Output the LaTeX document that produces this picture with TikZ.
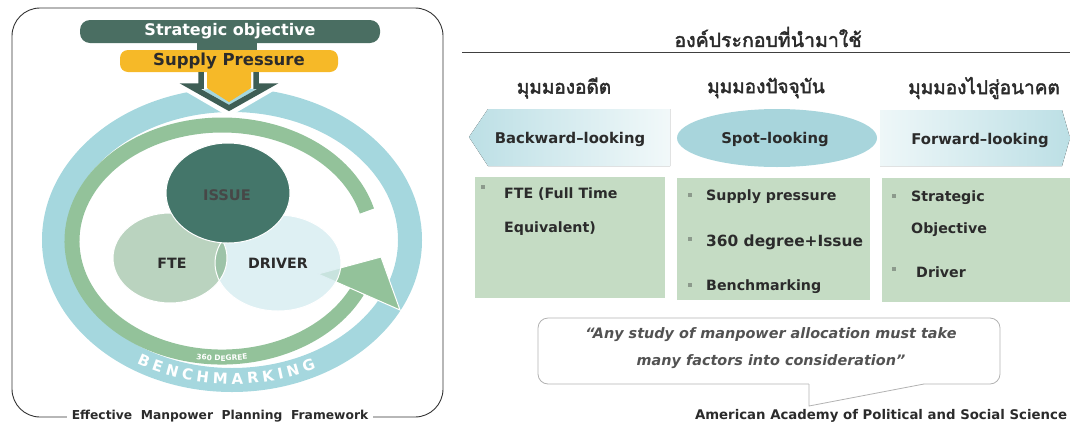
\documentclass[tikz,border=0pt]{standalone}
\usepackage{fontspec}
\setmainfont{DejaVu Sans}
\newfontfamily\thaifont[Script=Thai, FakeBold=2.2]{Loma}
\usetikzlibrary{decorations.text,shapes.geometric}
\newcommand\fsz[1]{\fontsize{#1}{#1}\selectfont}
\definecolor{darkbar}{HTML}{4A6E62}
\definecolor{supply}{HTML}{F6B928}
\definecolor{arrowdark}{HTML}{3E5E55}
\definecolor{bluering}{HTML}{A5D7DE}
\definecolor{greenring}{HTML}{93C29A}
\definecolor{issuec}{HTML}{44766A}
\definecolor{ftec}{HTML}{BAD3BF}
\definecolor{driverc}{HTML}{D6ECF0}
\definecolor{overlapc}{HTML}{9DC3A8}
\definecolor{boxgreen}{HTML}{C5DCC4}
\definecolor{bluedeep}{HTML}{BCDFE5}
\definecolor{spotblue}{HTML}{A8D5DC}
\definecolor{bulletgray}{HTML}{8C9A8C}
\definecolor{textdark}{HTML}{2B2B2B}
\begin{document}
\begin{tikzpicture}[x=1pt,y=-1pt,
  lbl/.style={font=\bfseries\fsz{14.8}, text=textdark, inner sep=0},
  item/.style={anchor=west, font=\bfseries\fsz{14.2}, text=textdark, inner sep=0},
  bul/.style={fill=bulletgray, minimum size=4.5pt, inner sep=0},
  panel/.style={fill=boxgreen, anchor=north west, inner sep=0},
  thaihead/.style={font=\thaifont\fsz{19}, text=textdark},
  circlbl/.style={font=\bfseries\fsz{14.2}, text=textdark},
]
\useasboundingbox (0,0) rectangle (1070,426);

% ---------- left panel ----------
\draw[line width=0.9pt, draw=black!80, rounded corners=28pt] (12,8) rectangle (443,417);
\node[fill=white, inner xsep=5pt, inner ysep=2pt, font=\bfseries\fsz{12.3}, text=textdark] (cap) at (220,416) {Effective\ \ Manpower\ \ Planning\ \ Framework};

% benchmarking ring
\draw[bluering, line width=24pt] (232,240) ellipse[x radius=178, y radius=140];
\path[decorate, decoration={text along path, text align={fit to path},
  text={|\bfseries\fsz{15}\color{white}|BENCHMARKING}}]
  (232+185*cos 121, 240+144*sin 121) arc[start angle=121, end angle=63, x radius=185, y radius=144];

% 360 degree ring
\draw[greenring, line width=15pt] (366.9,211) arc[start angle=-15, end angle=-334.5, x radius=150, y radius=116];
\path[decorate, decoration={text along path, text align=center,
  text={|\bfseries\fsz{7.5}\color{white}|360 DEGREE}}]
  (222+152*cos 112, 241+120*sin 112) arc[start angle=112, end angle=68, x radius=152, y radius=120];
\fill[greenring, draw=white, line width=1pt] (318,274) -- (381,257) -- (400,310) -- cycle;

% top bars and arrow
\fill[darkbar] (197,38) rectangle (257,52);
\node[fill=darkbar, rounded corners=10pt, minimum width=300pt, minimum height=23pt, inner sep=0,
  text=white, font=\bfseries\fsz{16}] (so) at (230,31.5) {Strategic objective};
\node[fill=supply, rounded corners=8pt, minimum width=218pt, minimum height=22pt, inner sep=0,
  text=textdark, font=\bfseries\fsz{16.5}] (sp) at (229,61) {Supply Pressure};
\fill[supply] (207,72) -- (251,72) -- (251,88) -- (229,102) -- (207,88) -- cycle;
\draw[white, line width=10pt, line join=miter] (186,86) -- (229,111) -- (272,86);
\draw[arrowdark, line width=5.5pt, line join=miter] (201,72) -- (201,86) -- (190,86) -- (229,108) -- (268,86) -- (256,86) -- (256,72);

% circles
\node[ellipse, fill=ftec, minimum width=114pt, minimum height=90pt, inner sep=0] (fte) at (170,258) {};
\node[ellipse, fill=driverc, fill opacity=0.8, minimum width=126pt, minimum height=96pt, inner sep=0] (drv) at (278,263) {};
\begin{scope}
  \clip (170,258) ellipse[x radius=57, y radius=45];
  \fill[overlapc] (278,263) ellipse[x radius=63, y radius=48];
\end{scope}
\draw[white, line width=1pt] (170,258) ellipse[x radius=57, y radius=45];
\draw[white, line width=1pt] (278,263) ellipse[x radius=63, y radius=48];
\node[ellipse, fill=issuec, draw=white, line width=1pt, minimum width=124pt, minimum height=100pt, inner sep=0] (issue) at (228,193) {};
\node[circlbl, text=black!72, font=\bfseries\fsz{14.6}] (issuet) at (227,195) {ISSUE};
\node[circlbl] (ftet) at (172,263) {FTE};
\node[circlbl] (drvt) at (278,263) {DRIVER};

% ---------- right panel ----------
\node[font=\thaifont\fsz{19.5}, text=textdark] (title) at (768,37) {องค์ประกอบที่นำมาใช้};
\coordinate (rl) at (462,52);
\coordinate (rr) at (1070,52);
\draw[line width=0.8pt, black!75] (rl) -- (rr);

\node[thaihead] (h1) at (564,88) {มุมมองอดีต};
\node[thaihead] (h2) at (766,88) {มุมมองปัจจุบัน};
\node[thaihead] (h3) at (984,88) {มุมมองไปสู่อนาคต};

\fill[left color=bluedeep, right color=white!80!bluedeep] (469,137) -- (488,109) -- (670,109) -- (670,166) -- (488,166) -- cycle;
\node[ellipse, fill=spotblue, minimum width=200pt, minimum height=58pt, inner sep=0] (spot) at (777,138) {};
\fill[left color=white!75!bluedeep, right color=bluedeep] (880,110) -- (1062,110) -- (1070,138) -- (1062,166) -- (880,166) -- cycle;
\node[lbl] (bw) at (570,139) {Backward–looking};
\node[lbl] (sl) at (775,139) {Spot–looking};
\node[lbl] (fw) at (980,140) {Forward–looking};

\node[panel, minimum width=190pt, minimum height=121pt] (box1) at (475,177) {};
\node[panel, minimum width=193pt, minimum height=122pt] (box2) at (677,178) {};
\node[panel, minimum width=188pt, minimum height=124pt] (box3) at (882,178) {};

\node[bul] (b11) at (483,187) {};
\node[item] (t11) at (504,194) {FTE (Full Time};
\node[item] (t12) at (504,229) {Equivalent)};

\node[bul] (b21) at (690,195) {};
\node[item] (t21) at (706,197) {Supply pressure};
\node[bul] (b22) at (690,239) {};
\node[item, font=\bfseries\fsz{15.4}] (t22) at (706,242) {360 degree+Issue};
\node[bul] (b23) at (690,285) {};
\node[item] (t23) at (706,287) {Benchmarking};

\node[bul] (b31) at (894,196) {};
\node[item] (t31) at (911,198) {Strategic};
\node[item] (t32) at (911,230) {Objective};
\node[bul] (b32) at (894,269) {};
\node[item] (t33) at (916,272) {Driver};

% quote bubble
\node[draw=black!30, line width=0.8pt, rounded corners=10pt, minimum width=462pt, minimum height=66pt, inner sep=0] (bubble) at (769,351) {};
\coordinate (ta) at (809,384);
\coordinate (tb) at (924,384);
\coordinate (tp) at (809,406);
\draw[white, line width=2pt] (ta) -- (tb);
\draw[black!30, line width=0.8pt] (ta) -- (tp) -- (tb);
\node[font=\bfseries\itshape\fsz{14.4}, text=black!68, align=center] (quote) at (771,348)
  {“Any study of manpower allocation must take\\[12.6pt] many factors into consideration”};

\node[font=\bfseries\fsz{13.3}, text=textdark] (src) at (881,416) {American Academy of Political and Social Science};
\end{tikzpicture}
\end{document}
